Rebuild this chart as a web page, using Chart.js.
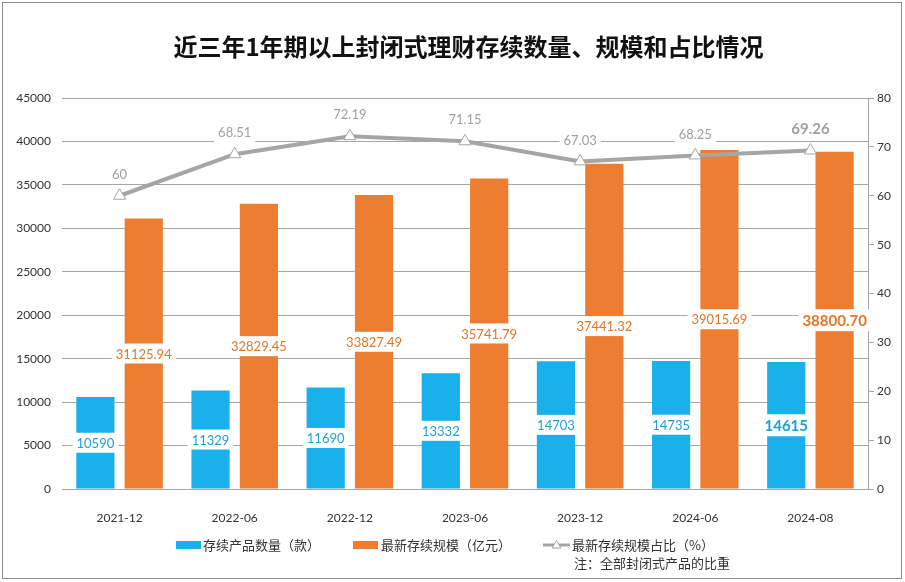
<!DOCTYPE html>
<html><head><meta charset="utf-8">
<script src="https://cdn.jsdelivr.net/npm/chart.js"></script>
<style>
html,body{margin:0;padding:0;background:#fff;}
#wrap{position:relative;width:905px;height:582px;overflow:hidden;font-family:"Noto Sans CJK SC",sans-serif;background:#fff;}
#frame{position:absolute;left:2px;top:2px;width:900px;height:577px;border:1px solid #8c8c8c;box-sizing:border-box;}
#title{position:absolute;left:16px;width:905px;top:31px;line-height:30px;text-align:center;font-size:24px;font-weight:bold;color:#111;}
#cw{position:absolute;left:0;top:0;width:905px;height:582px;}
.leg{position:absolute;font-size:13px;color:#333;line-height:16px;white-space:nowrap;}
.sw{position:absolute;}
</style></head><body>
<div id="wrap">
  <div id="frame"></div>
  <div id="cw"><canvas id="c"></canvas></div>
  <div id="title">近三年1年期以上封闭式理财存续数量、规模和占比情况</div>
  <div class="sw" style="left:176px;top:541px;width:25px;height:8px;background:#1ab0ec;"></div>
  <div class="leg" style="left:203px;top:537px;">存续产品数量（款）</div>
  <div class="sw" style="left:353px;top:541px;width:25px;height:8px;background:#ed7d31;"></div>
  <div class="leg" style="left:381px;top:537px;">最新存续规模（亿元）</div>
  <svg class="sw" style="left:543px;top:537px;" width="27" height="16"><line x1="0" y1="8" x2="27" y2="8" stroke="#a5a5a5" stroke-width="3"/><polygon points="13.5,3.5 18,11 9,11" fill="#fff" stroke="#a5a5a5" stroke-width="1"/></svg>
  <div class="leg" style="left:572px;top:537px;">最新存续规模占比（%）</div>
  <div class="leg" style="left:574px;top:555px;">注：全部封闭式产品的比重</div>
</div>
<script>
const categories = ['2021-12','2022-06','2022-12','2023-06','2023-12','2024-06','2024-08'];
const productCount = [10590, 11329, 11690, 13332, 14703, 14735, 14615];
const scaleAmount = [31125.94, 32829.45, 33827.49, 35741.79, 37441.32, 39015.69, 38800.70];
const sharePct = [60, 68.51, 72.19, 71.15, 67.03, 68.25, 69.26];
const shareLabels = ['60','68.51','72.19','71.15','67.03','68.25','69.26'];

const FONT = 'Lato, "Liberation Sans", sans-serif';

const labelPlugin = {
  id: 'vlabels',
  afterDatasetsDraw(chart) {
    const ctx = chart.ctx;
    chart.data.datasets.forEach((ds, di) => {
      const meta = chart.getDatasetMeta(di);
      meta.data.forEach((el, i) => {
        const last = i === meta.data.length - 1;
        const x = el.x;
        const y = meta.type === 'bar' ? (el.y + el.base) / 2 : el.y - 22;
        const txt = ds.labelText(i);
        ctx.save();
        ctx.font = (last ? 'bold 15px ' : '13px ') + FONT;
        const w = ctx.measureText(txt).width;
        const h = last ? 22 : 20;
        ctx.fillStyle = '#fff';
        ctx.fillRect(x - w / 2 - 4, y - h / 2, w + 8, h);
        ctx.fillStyle = ds.labelColor;
        ctx.textAlign = 'center';
        ctx.textBaseline = 'middle';
        ctx.fillText(txt, x, y + 1);
        ctx.restore();
      });
    });
  }
};

new Chart(document.getElementById('c'), {
  type: 'bar',
  data: {
    labels: categories,
    datasets: [
      {
        label: '存续产品数量（款）', data: productCount, backgroundColor: '#1ab0ec',
        yAxisID: 'y', order: 1, categoryPercentage: 0.84, barPercentage: 0.79,
        labelColor: '#1a9fd9', labelText: i => String(productCount[i])
      },
      {
        label: '最新存续规模（亿元）', data: scaleAmount, backgroundColor: '#ed7d31',
        yAxisID: 'y', order: 2, categoryPercentage: 0.84, barPercentage: 0.79,
        labelColor: '#e07628', labelText: i => scaleAmount[i].toFixed(2)
      },
      {
        type: 'line', label: '最新存续规模占比（%）', data: sharePct, yAxisID: 'y1', order: 0,
        borderColor: '#a5a5a5', borderWidth: 4, pointStyle: 'triangle', pointRadius: 7,
        pointBackgroundColor: '#fff', pointBorderColor: '#a5a5a5', pointBorderWidth: 1,
        tension: 0, fill: false,
        labelColor: '#a0a0a0', labelText: i => shareLabels[i]
      }
    ]
  },
  options: {
    responsive: true, maintainAspectRatio: false, animation: false,
    devicePixelRatio: 1,
    layout: { padding: { top: 98, left: 0, right: 0, bottom: 0 } },
    plugins: { legend: { display: false }, tooltip: { enabled: false }, title: { display: false } },
    scales: {
      x: {
        grid: { display: false }, border: { display: false },
        ticks: { font: { family: FONT, size: 12 }, color: '#333', padding: 14 },
        afterFit: s => { s.height = 93; }
      },
      y: {
        position: 'left', min: 0, max: 45000,
        ticks: { stepSize: 5000, font: { family: FONT, size: 12 }, color: '#333', padding: 11,
                 callback: v => String(v) },
        grid: { color: '#a6a6a6', lineWidth: 1, drawTicks: false },
        border: { display: false },
        afterFit: s => { s.width = 62; }
      },
      y1: {
        position: 'right', min: 0, max: 80,
        ticks: { stepSize: 10, font: { family: FONT, size: 12 }, color: '#333', padding: 3,
                 callback: v => String(v) },
        grid: { drawOnChartArea: false, color: '#a6a6a6', tickLength: 6 },
        border: { display: true, color: '#a6a6a6' },
        afterFit: s => { s.width = 37; }
      }
    }
  },
  plugins: [labelPlugin]
});
</script>
</body></html>
